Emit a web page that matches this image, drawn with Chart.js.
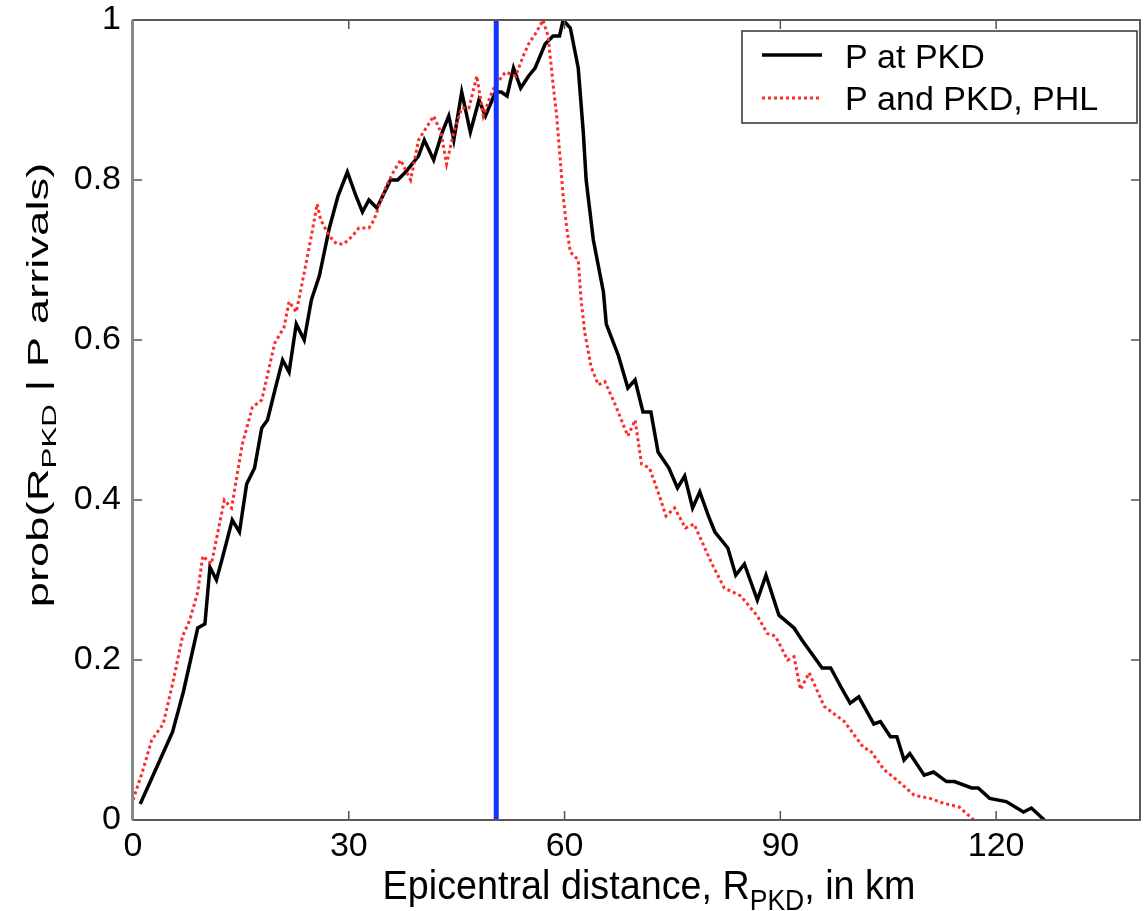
<!DOCTYPE html>
<html>
<head>
<meta charset="utf-8">
<script src="https://cdn.jsdelivr.net/npm/chart.js@4"></script>
<style>
  html, body { margin: 0; padding: 0; background: #fff; }
  #wrap { width: 1145px; height: 911px; }
</style>
</head>
<body>
<div id="wrap"><canvas id="c" width="1145" height="911"></canvas></div>
<script>
// ---- data ----
const pkdX = [1,2.5,4,5.5,7,8,9,10,10.7,11.6,12.5,13.8,14.8,15.8,16.9,17.9,18.7,19.8,20.8,21.7,22.7,23.8,24.8,25.9,27.3,28.5,29.8,31,31.9,32.8,33.9,35.8,36.8,37.9,39.7,40.5,41.8,43,43.9,44.6,45.7,46.9,48.1,49,50.4,51.2,52,52.9,53.9,55,55.9,57.3,58.4,59.3,59.8,60.8,61.9,62.6,63,64,65.4,65.8,67.5,68.8,69.8,70.9,72,73,74.5,75.7,76.7,77.8,78.8,80,80.9,82.7,83.8,85,86.8,88,89.8,91.9,93,94.2,95.8,97,98.5,99.7,100.9,103,103.9,105.3,106.2,107.2,108,110,111.3,113.1,114.2,116.6,117.5,119.1,121.4,123.8,124.9,126.7];
const pkdY = [0.02,0.05,0.08,0.11,0.16,0.2,0.24,0.245,0.316,0.30,0.33,0.375,0.36,0.42,0.44,0.49,0.50,0.54,0.575,0.56,0.62,0.60,0.65,0.68,0.74,0.78,0.81,0.78,0.76,0.775,0.765,0.80,0.80,0.81,0.83,0.85,0.825,0.86,0.88,0.85,0.91,0.86,0.90,0.88,0.91,0.91,0.905,0.94,0.915,0.93,0.94,0.97,0.98,0.98,1.0,0.99,0.94,0.86,0.80,0.725,0.66,0.62,0.58,0.54,0.55,0.51,0.51,0.46,0.44,0.415,0.43,0.39,0.41,0.38,0.36,0.34,0.306,0.32,0.275,0.306,0.256,0.24,0.225,0.21,0.19,0.19,0.165,0.146,0.154,0.12,0.123,0.104,0.104,0.075,0.083,0.056,0.06,0.048,0.048,0.04,0.04,0.027,0.023,0.01,0.015,0];

const phlX = [0,1.3,2.6,4.2,5.5,6.9,7.9,9,9.7,10.9,11.8,12.7,13.7,15.2,16.6,17.9,19.7,21,21.7,22.7,23.6,24.8,25.6,26.1,27.3,28.3,29.3,30.5,31.4,32.8,33.5,35.1,36.2,37.2,38.6,39.7,41.8,42.8,43.6,44.6,45.7,46.7,47.8,48.7,49.9,50.5,51.8,53.2,54.3,55,56.1,57,57.7,58.4,58.9,59.4,59.8,60.3,60.8,61.9,62.3,62.8,63.7,64.7,65.6,67,68.8,69.8,70.7,71.8,73,74.1,75.3,76.8,78,79.5,80.5,82.2,84.5,86.8,88.2,89.3,91,91.9,92.8,94,96.1,98.9,101.6,102.5,104.4,106.2,108.6,110.8,112.7,114.9,116.9];
const phlY = [0.025,0.06,0.10,0.12,0.17,0.23,0.25,0.285,0.33,0.32,0.36,0.40,0.39,0.47,0.516,0.525,0.596,0.616,0.648,0.635,0.675,0.73,0.77,0.75,0.73,0.72,0.72,0.73,0.74,0.74,0.75,0.79,0.81,0.825,0.80,0.85,0.88,0.86,0.82,0.86,0.89,0.89,0.93,0.88,0.91,0.92,0.935,0.93,0.956,0.97,0.985,1.0,0.98,0.92,0.88,0.825,0.78,0.74,0.71,0.70,0.65,0.61,0.566,0.544,0.548,0.52,0.48,0.50,0.445,0.44,0.41,0.38,0.39,0.365,0.37,0.34,0.32,0.29,0.28,0.255,0.233,0.23,0.20,0.204,0.163,0.184,0.142,0.123,0.09,0.087,0.063,0.05,0.031,0.027,0.021,0.016,0];

const markerX = 50.5;          // blue vertical line
const xTicks = [0,30,60,90,120];
const yTicks = [0,0.2,0.4,0.6,0.8,1];
const seriesNames = ['P at PKD', 'P and PKD, PHL'];
const xMin = 0, xMax = 140, yMin = 0, yMax = 1;

// ---- build ----
const toPts = (xs, ys) => xs.map((x, i) => ({x: x, y: ys[i]}));
const FONT = '"Liberation Sans", Arial, Helvetica, sans-serif';

function drawRich(ctx, segs, size) {
  let w = 0;
  segs.forEach(s => {
    ctx.font = (s.sub ? Math.round(size*0.7) : size) + 'px ' + FONT;
    s.w = ctx.measureText(s.t).width; w += s.w;
  });
  let x = -w/2;
  segs.forEach(s => {
    ctx.font = (s.sub ? Math.round(size*0.7) : size) + 'px ' + FONT;
    ctx.fillText(s.t, x, s.sub ? size*0.28 : 0);
    x += s.w;
  });
}

const decor = {
  id: 'decor',
  afterDraw(chart) {
    const ctx = chart.ctx, a = chart.chartArea;
    const xs = chart.scales.x, ys = chart.scales.y;
    ctx.save();
    // inward ticks
    ctx.strokeStyle = '#555'; ctx.lineWidth = 1.5;
    const tl = 9;
    xTicks.forEach(v => {
      const p = xs.getPixelForValue(v);
      ctx.beginPath();
      ctx.moveTo(p, a.bottom); ctx.lineTo(p, a.bottom - tl);
      ctx.moveTo(p, a.top); ctx.lineTo(p, a.top + tl);
      ctx.stroke();
    });
    yTicks.forEach(v => {
      const p = ys.getPixelForValue(v);
      ctx.beginPath();
      ctx.moveTo(a.left, p); ctx.lineTo(a.left + tl, p);
      ctx.moveTo(a.right, p); ctx.lineTo(a.right - tl, p);
      ctx.stroke();
    });
    // frame
    ctx.strokeStyle = '#5a5a5a'; ctx.lineWidth = 2;
    ctx.strokeRect(a.left, a.top, a.right - a.left, a.bottom - a.top);
    ctx.fillStyle = '#888';
    ctx.fillRect(a.left - 2, a.top, 3, a.bottom - a.top);

    // legend
    const lx = 742, ly = 31, lw = 395, lh = 92;
    ctx.fillStyle = '#fff';
    ctx.fillRect(lx, ly, lw, lh);
    ctx.strokeStyle = '#333'; ctx.lineWidth = 1.5;
    ctx.strokeRect(lx, ly, lw, lh);
    ctx.lineWidth = 3.5; ctx.strokeStyle = '#000'; ctx.setLineDash([]);
    ctx.beginPath(); ctx.moveTo(762, 55); ctx.lineTo(822, 55); ctx.stroke();
    ctx.lineWidth = 3; ctx.strokeStyle = '#ff2a2a'; ctx.setLineDash([3, 3]);
    ctx.beginPath(); ctx.moveTo(762, 98); ctx.lineTo(822, 98); ctx.stroke();
    ctx.setLineDash([]);
    ctx.fillStyle = '#000'; ctx.textBaseline = 'alphabetic'; ctx.textAlign = 'left';
    ctx.font = '34px ' + FONT;
    ctx.fillText(seriesNames[0], 845, 68);
    ctx.fillText(seriesNames[1], 845, 110);

    // x title
    ctx.save();
    ctx.translate(649, 899);
    ctx.scale(1.02, 1.1);
    drawRich(ctx, [{t: 'Epicentral distance, R'}, {t: 'PKD', sub: true}, {t: ', in km'}], 37);
    ctx.restore();
    // y title
    ctx.save();
    ctx.translate(48, 385);
    ctx.rotate(-Math.PI/2);
    ctx.scale(1.42, 0.92);
    drawRich(ctx, [{t: 'prob(R'}, {t: 'PKD', sub: true}, {t: ' | P arrivals)'}], 32);
    ctx.restore();
    ctx.restore();
  }
};

new Chart(document.getElementById('c'), {
  type: 'line',
  data: {
    datasets: [
      { label: 'marker', data: [{x: markerX, y: yMin}, {x: markerX, y: yMax}],
        borderColor: '#1632ff', borderWidth: 5, pointRadius: 0, order: 0 },
      { label: seriesNames[1], data: toPts(phlX, phlY),
        borderColor: '#ff2a2a', borderWidth: 3, borderDash: [3, 3], pointRadius: 0, tension: 0, order: 1 },
      { label: seriesNames[0], data: toPts(pkdX, pkdY),
        borderColor: '#000', borderWidth: 3.5, pointRadius: 0, tension: 0, order: 2 }
    ]
  },
  options: {
    responsive: false,
    animation: false,
    layout: { padding: { top: 20, right: 5, left: 0, bottom: 0 } },
    plugins: { legend: { display: false }, tooltip: { enabled: false } },
    scales: {
      x: {
        type: 'linear', min: xMin, max: xMax,
        afterBuildTicks: s => { s.ticks = xTicks.map(v => ({value: v})); },
        afterFit: s => { s.height = 91; s.paddingLeft = 0; s.paddingRight = 0; },
        grid: { display: false, drawTicks: false },
        border: { display: false },
        ticks: { padding: 6, color: '#000', font: { family: FONT, size: 34 }, maxRotation: 0 }
      },
      y: {
        type: 'linear', min: yMin, max: yMax,
        afterBuildTicks: s => { s.ticks = yTicks.map(v => ({value: v})); },
        afterFit: s => { s.width = 133; s.paddingTop = 0; s.paddingBottom = 0; },
        grid: { display: false, drawTicks: false },
        border: { display: false },
        ticks: { padding: 12, color: '#000', font: { family: FONT, size: 34 },
                 callback: v => (v === 0 ? '0' : v === 1 ? '1' : v.toFixed(1)) }
      }
    }
  },
  plugins: [decor]
});
</script>
</body>
</html>
